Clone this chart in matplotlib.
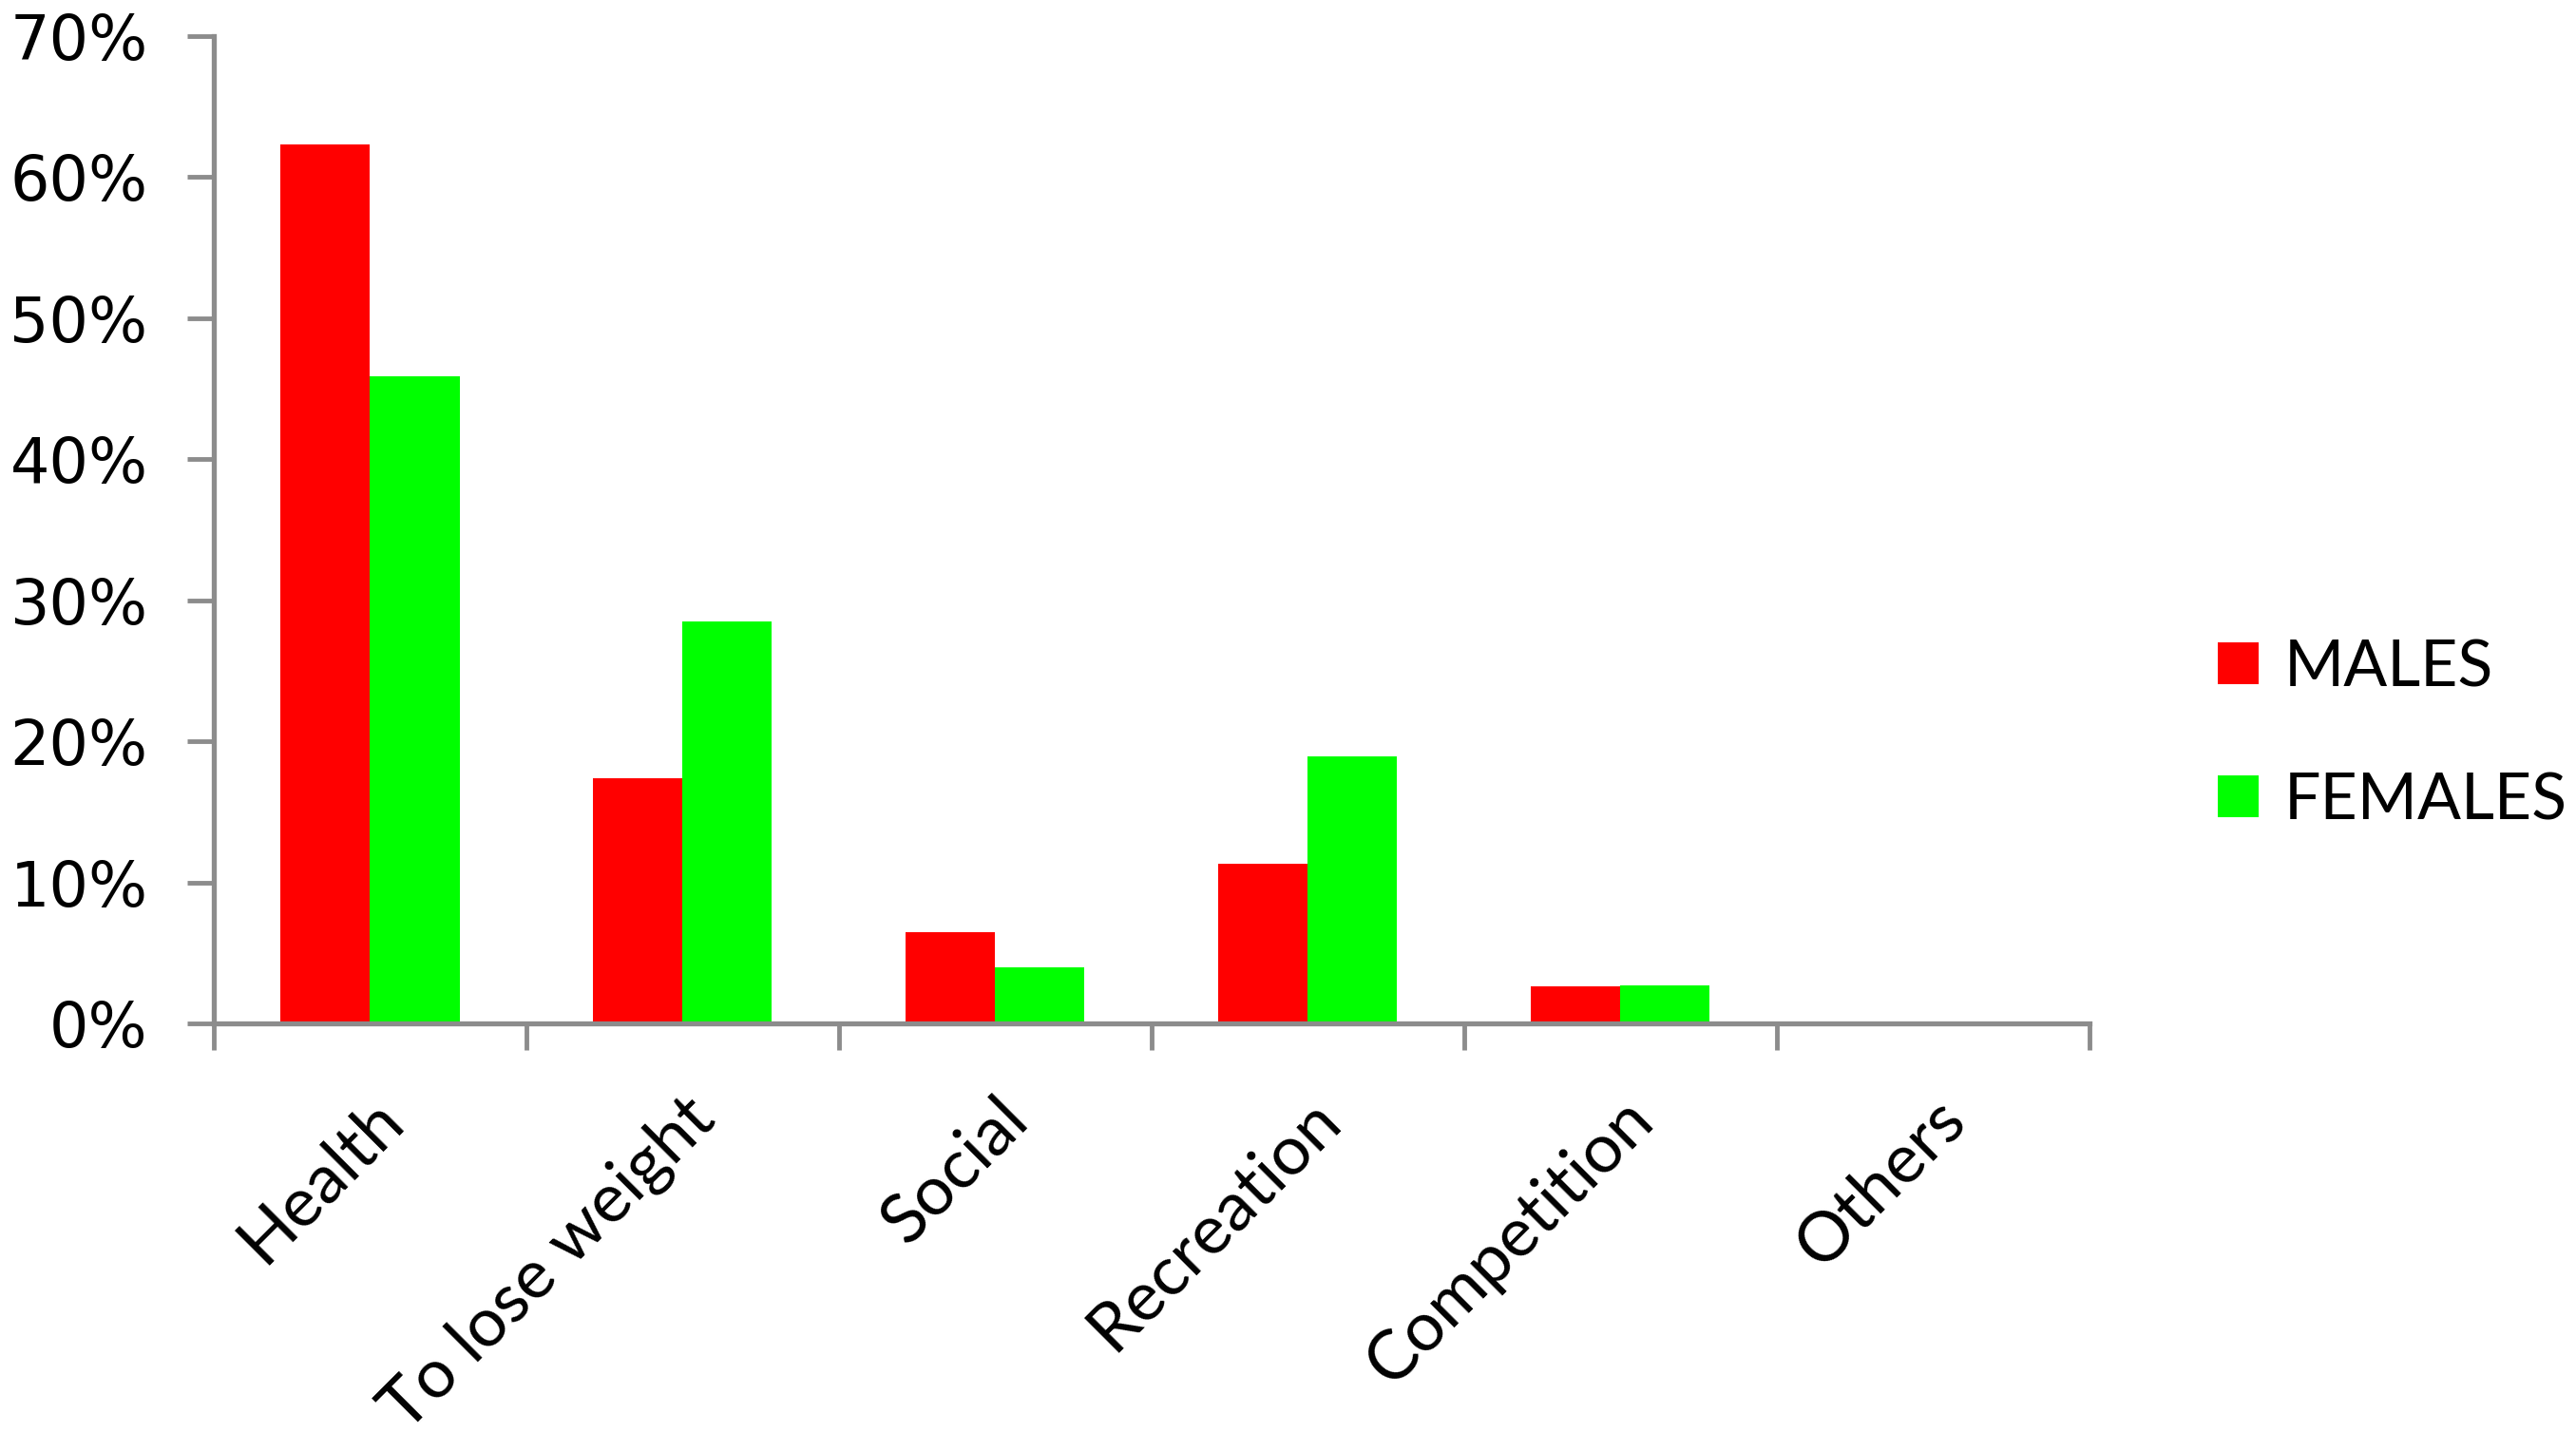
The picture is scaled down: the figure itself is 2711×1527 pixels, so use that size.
import matplotlib
matplotlib.use("Agg")
import matplotlib.pyplot as plt
import numpy as np
from matplotlib.ticker import FixedLocator, PercentFormatter

categories = ["Health", "To lose weight", "Social", "Recreation", "Competition", "Others"]
males = [62.3, 17.4, 6.5, 11.3, 2.6, 0.0]
females = [45.9, 28.5, 3.95, 18.9, 2.7, 0.0]
y_ticks = [0, 10, 20, 30, 40, 50, 60, 70]

GREY = "#8c8c8c"
LABEL_FONT = ["Lato", "DejaVu Sans"]

fig = plt.figure(figsize=(27.11, 15.27), dpi=100)
ax = fig.add_axes([0.083, 0.2947, 0.728, 0.6804])

x = np.arange(len(categories))
w = 0.286
ax.bar(x - w / 2, males, w, color="#ff0000", label="MALES")
ax.bar(x + w / 2, females, w, color="#00ff00", label="FEMALES")

ax.set_xlim(-0.5, len(categories) - 0.5)
ax.set_ylim(0, 70)

for s in ["top", "right"]:
    ax.spines[s].set_visible(False)
for s in ["left", "bottom"]:
    ax.spines[s].set_color(GREY)
    ax.spines[s].set_linewidth(3.8)

ax.set_yticks(y_ticks)
ax.yaxis.set_major_formatter(PercentFormatter(decimals=0))
ax.tick_params(axis="y", length=20, width=3.5, color=GREY, labelsize=47, pad=30)
for lab in ax.get_yticklabels():
    lab.set_family(["DejaVu Sans"])

# ticks sit between categories, labels in the middle
ax.xaxis.set_major_locator(FixedLocator(np.arange(len(categories) + 1) - 0.5))
ax.xaxis.set_major_formatter(plt.NullFormatter())
ax.xaxis.set_minor_locator(FixedLocator(x))
ax.set_xticklabels(categories, minor=True, rotation=45, ha="right",
                   rotation_mode="anchor", fontsize=52, family=LABEL_FONT)
ax.tick_params(axis="x", which="minor", length=0, pad=48)
ax.tick_params(axis="x", which="major", length=20, width=3.5, color=GREY, direction="out")

leg = fig.legend(loc="upper left", bbox_to_anchor=(0.8385, 0.600), frameon=False,
                 prop={"family": LABEL_FONT, "size": 49}, handlelength=0.62,
                 handleheight=0.62, handletextpad=0.4, labelspacing=1.15)

fig.savefig("out.png", dpi=100, facecolor="white")
